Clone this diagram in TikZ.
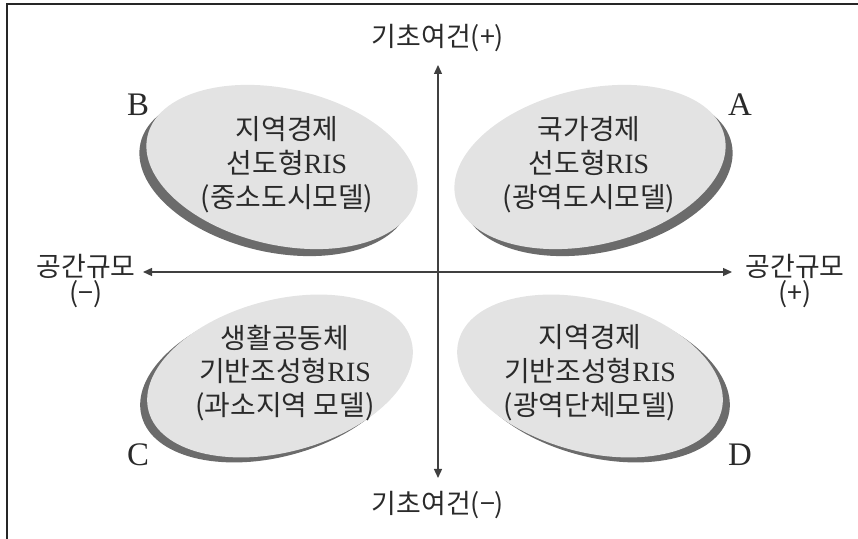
\documentclass[tikz,border=0pt]{standalone}
\usepackage{fontspec}
\setmainfont{Liberation Serif}
\newfontfamily\kr{Noto Sans CJK KR}
\usetikzlibrary{arrows.meta}
\definecolor{shadowgray}{HTML}{6B6B6B}
\definecolor{facegray}{HTML}{E3E3E3}
\definecolor{inkgray}{HTML}{2A2A2A}
\begin{document}
\begin{tikzpicture}[x=1bp,y=1bp,
  shadowfill/.style={fill=shadowgray},
  facefill/.style={fill=facegray},
  ellabel/.style={font=\kr\fontsize{28}{34}\selectfont, align=center, text=inkgray, inner sep=0pt},
  axlabel/.style={font=\kr\fontsize{27}{27}\selectfont, align=center, text=inkgray, inner sep=0pt},
  corner/.style={font=\fontsize{33}{33}\selectfont, text=inkgray, inner sep=0pt},
  axisline/.style={line width=1.3bp, draw=black!75, {Triangle[length=9bp,width=8bp]}-{Triangle[length=9bp,width=8bp]}}]
\useasboundingbox (0,0) rectangle (858,539);
\draw[line width=2bp, black!85] (7,0) -- (7,535) -- (858,535);

% ellipse B (upper left)
\fill[shadowfill, rotate around={-13:(275,365)}] (275,365) ellipse [x radius=138, y radius=78];
\fill[facefill, rotate around={-13:(282,372)}] (282,372) ellipse [x radius=138, y radius=78];
% ellipse A (upper right)
\fill[shadowfill, rotate around={13:(597,365)}] (597,365) ellipse [x radius=138, y radius=78];
\fill[facefill, rotate around={13:(590,372)}] (590,372) ellipse [x radius=138, y radius=78];
% ellipse C (lower left)
\fill[shadowfill, rotate around={15:(273,158)}] (273,158) ellipse [x radius=136, y radius=76];
\fill[facefill, rotate around={15:(280,163)}] (280,163) ellipse [x radius=136, y radius=76];
% ellipse D (lower right)
\fill[shadowfill, rotate around={-15:(597,158)}] (597,158) ellipse [x radius=136, y radius=76];
\fill[facefill, rotate around={-15:(590,163)}] (590,163) ellipse [x radius=136, y radius=76];

% axes
\coordinate (vtop) at (438,474);
\coordinate (vbot) at (438,61);
\coordinate (hleft) at (143,267);
\coordinate (hright) at (732,267);
\draw[axisline] (vbot) -- (vtop);
\draw[axisline] (hleft) -- (hright);

% axis labels
\node[axlabel] (ytop) at (438,501) {기초여건(+)};
\node[axlabel] (ybot) at (438,34) {기초여건(−)};
\node[axlabel] (xleft) at (86,258) {공간규모\\(−)};
\node[axlabel] (xright) at (795,258) {공간규모\\(+)};

% corner letters
\node[corner] (lB) at (138,434) {B};
\node[corner] (lA) at (740,434) {A};
\node[corner] (lC) at (138,84) {C};
\node[corner] (lD) at (740,84) {D};

% ellipse texts
\node[ellabel] (tB) at (287,374) {지역경제\\선도형{\rmfamily RIS}\\(중소도시모델)};
\node[ellabel] (tA) at (589,374) {국가경제\\선도형{\rmfamily RIS}\\(광역도시모델)};
\node[ellabel] (tC) at (285,166) {생활공동체\\기반조성형{\rmfamily RIS}\\(과소지역 모델)};
\node[ellabel] (tD) at (590,166) {지역경제\\기반조성형{\rmfamily RIS}\\(광역단체모델)};
\end{tikzpicture}
\end{document}
